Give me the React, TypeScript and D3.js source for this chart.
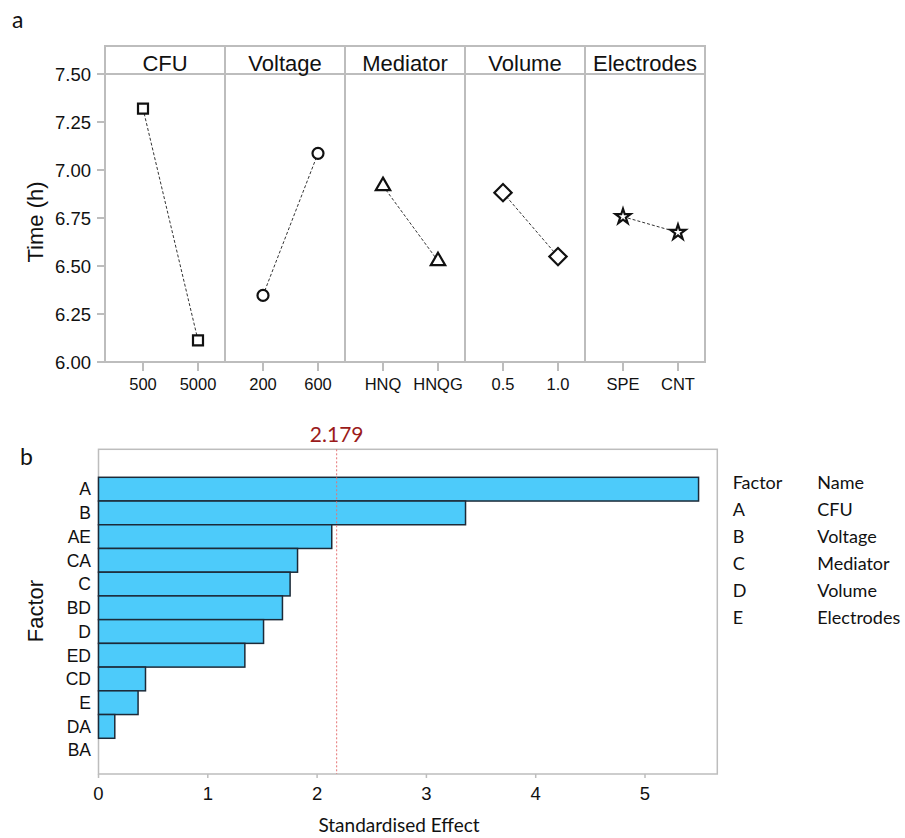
import React from "react";
import * as d3 from "d3";

// ---------- Data: panel a (main effects) ----------
const factorNames = ["CFU", "Voltage", "Mediator", "Volume", "Electrodes"];
const cfuLevels = ["500", "5000"];
const voltageLevels = ["200", "600"];
const mediatorLevels = ["HNQ", "HNQG"];
const volumeLevels = ["0.5", "1.0"];
const electrodeLevels = ["SPE", "CNT"];
const cfuMeans = [7.32, 6.113];
const voltageMeans = [6.347, 7.087];
const mediatorMeans = [6.917, 6.526];
const volumeMeans = [6.882, 6.549];
const electrodeMeans = [6.757, 6.675];
const timeTicks = [6.0, 6.25, 6.5, 6.75, 7.0, 7.25, 7.5];

// ---------- Data: panel b (Pareto of standardised effects) ----------
const terms = ["A", "B", "AE", "CA", "C", "BD", "D", "ED", "CD", "E", "DA", "BA"];
const effects = [5.49, 3.358, 2.134, 1.821, 1.753, 1.683, 1.51, 1.339, 0.43, 0.362, 0.149, 0];
const criticalValue = 2.179;
const effectTicks = [0, 1, 2, 3, 4, 5];
const legendFactors = ["A", "B", "C", "D", "E"];

const ARIAL = "'Liberation Sans', Arial, sans-serif";
const CALIBRI = "Lato, 'Open Sans', sans-serif";
const GRID = "#bdbdbd";

const panelLevels = [cfuLevels, voltageLevels, mediatorLevels, volumeLevels, electrodeLevels];
const panelMeans = [cfuMeans, voltageMeans, mediatorMeans, volumeMeans, electrodeMeans];

export default function App() {
  // ---- panel a geometry ----
  const aLeft = 105;
  const aPanelW = 120;
  const aHeaderTop = 46;
  const aTop = 74;
  const aBottom = 362;
  const y = d3.scaleLinear().domain([6, 7.5]).range([aBottom, aTop]);

  const symbols = [
    { type: d3.symbolSquare, size: 100, rot: 0 },
    { type: d3.symbolCircle, size: 95, rot: 0 },
    { type: d3.symbolTriangle, size: 90, rot: 0 },
    { type: d3.symbolSquare, size: 150, rot: 45 },
    { type: d3.symbolStar, size: 70, rot: 0 },
  ];

  // ---- panel b geometry ----
  const bLeft = 98.5;
  const bRight = 717.3;
  const bTop = 449.3;
  const bBottom = 774;
  const x = d3.scaleLinear().domain([0, (bRight - bLeft) / 109.3]).range([bLeft, bRight]);
  const yb = d3.scaleBand().domain(terms).range([477.3, 762]).padding(0);

  const line = d3.line<[number, number]>().x((d) => d[0]).y((d) => d[1]);

  return (
    <svg
      width={905}
      height={838}
      style={{ position: "absolute", left: 0, top: 0, background: "#fff" }}
    >
      {/* ===== Panel a ===== */}
      <text x={12} y={28} fontFamily={CALIBRI} fontSize={23} fill="#111">a</text>

      {/* frame */}
      <rect
        x={aLeft}
        y={aHeaderTop}
        width={aPanelW * 5}
        height={aBottom - aHeaderTop}
        fill="none"
        stroke={GRID}
        strokeWidth={2}
      />
      <line x1={aLeft} x2={aLeft + aPanelW * 5} y1={aTop} y2={aTop} stroke={GRID} strokeWidth={2} />

      {/* y ticks */}
      {timeTicks.map((t) => (
        <g key={t}>
          <line x1={aLeft - 8} x2={aLeft} y1={y(t)} y2={y(t)} stroke={GRID} strokeWidth={2} />
          <text
            x={aLeft - 14}
            y={y(t)}
            dy="0.36em"
            textAnchor="end"
            fontFamily={ARIAL}
            fontSize={18.5}
            fill="#111"
          >
            {d3.format(".2f")(t)}
          </text>
        </g>
      ))}
      <text
        transform={`translate(43,222) rotate(-90)`}
        textAnchor="middle"
        fontFamily={ARIAL}
        fontSize={22}
        fill="#111"
      >
        Time (h)
      </text>

      {factorNames.map((name, i) => {
        const px = aLeft + i * aPanelW;
        const xs = d3.scalePoint<string>().domain(panelLevels[i]).range([px + 38, px + 93]);
        const pts: [number, number][] = panelLevels[i].map((lv, j) => [xs(lv) as number, y(panelMeans[i][j])]);
        const s = symbols[i];
        const path = d3.symbol().type(s.type).size(s.size)() as string;
        return (
          <g key={name}>
            {i > 0 && (
              <line x1={px} x2={px} y1={aHeaderTop} y2={aBottom} stroke={GRID} strokeWidth={2} />
            )}
            <text
              x={px + aPanelW / 2}
              y={71}
              textAnchor="middle"
              fontFamily={ARIAL}
              fontSize={22}
              fill="#111"
            >
              {name}
            </text>
            {panelLevels[i].map((lv) => (
              <g key={lv}>
                <line
                  x1={xs(lv)}
                  x2={xs(lv)}
                  y1={aBottom}
                  y2={aBottom + 9}
                  stroke={GRID}
                  strokeWidth={2}
                />
                <text
                  x={xs(lv)}
                  y={390}
                  textAnchor="middle"
                  fontFamily={ARIAL}
                  fontSize={16.5}
                  fill="#111"
                >
                  {lv}
                </text>
              </g>
            ))}
            <path
              d={line(pts) as string}
              fill="none"
              stroke="#333"
              strokeWidth={1}
              strokeDasharray="3,2"
            />
            {pts.map((p, j) => (
              <path
                key={j}
                d={path}
                transform={`translate(${p[0]},${p[1]}) rotate(${s.rot})`}
                fill="#fff"
                stroke="#111"
                strokeWidth={2.2}
              />
            ))}
          </g>
        );
      })}

      {/* ===== Panel b ===== */}
      <text x={20} y={465} fontFamily={CALIBRI} fontSize={23} fill="#111">b</text>

      <rect
        x={bLeft}
        y={bTop}
        width={bRight - bLeft}
        height={bBottom - bTop}
        fill="none"
        stroke={GRID}
        strokeWidth={1.5}
      />

      {terms.map((t, i) => (
        <g key={t}>
          {effects[i] > 0 && (
            <rect
              x={x(0)}
              y={yb(t)}
              width={x(effects[i]) - x(0)}
              height={yb.bandwidth()}
              fill="#4dcbfa"
              stroke="#1c2a38"
              strokeWidth={1.5}
            />
          )}
          <text
            x={91}
            y={(yb(t) as number) + yb.bandwidth() / 2}
            dy="0.36em"
            textAnchor="end"
            fontFamily={ARIAL}
            fontSize={17.5}
            fill="#111"
          >
            {t}
          </text>
        </g>
      ))}

      <line
        x1={x(criticalValue)}
        x2={x(criticalValue)}
        y1={bTop}
        y2={bBottom}
        stroke="#e57373"
        strokeWidth={1}
        strokeDasharray="2,2"
      />
      <text
        x={x(criticalValue)}
        y={441.5}
        textAnchor="middle"
        fontFamily={CALIBRI}
        fontSize={21}
        fill="#9b1b1b"
      >
        {criticalValue.toFixed(3)}
      </text>

      {effectTicks.map((t) => (
        <g key={t}>
          <line x1={x(t)} x2={x(t)} y1={bBottom} y2={bBottom + 4} stroke={GRID} strokeWidth={1.5} />
          <text
            x={x(t)}
            y={800}
            textAnchor="middle"
            fontFamily={ARIAL}
            fontSize={18.5}
            fill="#111"
          >
            {t}
          </text>
        </g>
      ))}

      <text
        x={399}
        y={832}
        textAnchor="middle"
        fontFamily={CALIBRI}
        fontSize={19}
        fill="#111"
      >
        Standardised Effect
      </text>
      <text
        transform={`translate(43,611) rotate(-90)`}
        textAnchor="middle"
        fontFamily={ARIAL}
        fontSize={22}
        fill="#111"
      >
        Factor
      </text>

      {/* legend table */}
      <text x={732.7} y={489.3} fontFamily={CALIBRI} fontSize={18} fill="#111">Factor</text>
      <text x={817.3} y={489.3} fontFamily={CALIBRI} fontSize={18} fill="#111">Name</text>
      {legendFactors.map((f, i) => (
        <g key={f}>
          <text x={732.7} y={516 + i * 27.1} fontFamily={CALIBRI} fontSize={18} fill="#111">{f}</text>
          <text x={817.3} y={516 + i * 27.1} fontFamily={CALIBRI} fontSize={18} fill="#111">
            {factorNames[i]}
          </text>
        </g>
      ))}
    </svg>
  );
}
